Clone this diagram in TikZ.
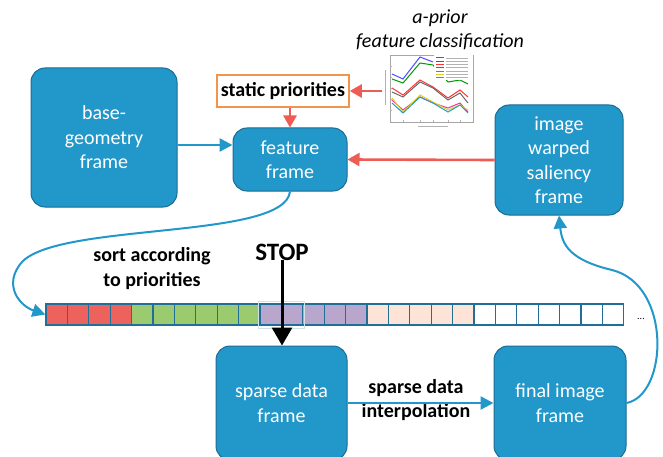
\documentclass[tikz,border=0pt]{standalone}
\usepackage{fontspec}
\setmainfont{Carlito}
\usetikzlibrary{arrows.meta}

\definecolor{framefill}{RGB}{34,151,202}
\definecolor{frameline}{RGB}{27,108,148}
\definecolor{prioline}{RGB}{242,149,74}
\definecolor{redarrow}{RGB}{238,92,84}
\definecolor{cellred}{RGB}{238,98,94}
\definecolor{cellgreen}{RGB}{155,203,110}
\definecolor{cellpurple}{RGB}{184,166,204}
\definecolor{cellpeach}{RGB}{253,228,214}
\definecolor{celledge}{RGB}{31,111,152}

\begin{document}
\begin{tikzpicture}[x=1pt, y=-1pt]
    \tikzstyle{frame} = [draw=frameline, line width=1pt, fill=framefill, rounded corners=14pt, text=white, align=center, inner sep=0pt, font=\fontsize{20}{24.5}\selectfont]
    \tikzstyle{boldtext} = [align=center, inner sep=0pt, font=\fontsize{20}{25}\selectfont\bfseries]
    \tikzstyle{blueflow} = [draw=framefill, line width=2.6pt, -{Triangle[length=13pt,width=13pt]}]
    \tikzstyle{redflow} = [draw=redarrow, line width=2.6pt, -{Triangle[length=12pt,width=13pt]}]
    \tikzstyle{cell} = [draw=celledge, line width=1.2pt, minimum width=21.4pt, minimum height=21pt, inner sep=0pt]
    \tikzstyle{curve} = [line width=2pt]

    \useasboundingbox (0,0) rectangle (663,457);

    % frames
    \node[frame, minimum width=146pt, minimum height=139pt] (base) at (104,137.5) {base-\\geometry\\frame};
    \node[frame, minimum width=114pt, minimum height=63pt] (feature) at (290,159.5) {feature\\frame};
    \node[frame, minimum width=128pt, minimum height=110pt] (saliency) at (559,160) {image\\warped\\saliency\\frame};
    \node[frame, minimum width=131pt, minimum height=114pt] (sparse) at (281.5,403) {sparse data\\frame};
    \node[frame, minimum width=132pt, minimum height=114pt] (final) at (560,403) {final image\\frame};
    \node[boldtext, draw=prioline, line width=1.5pt, fill=white, minimum width=132pt, minimum height=32pt] (static) at (283,91) {static priorities};

    % labels
    \node[align=center, font=\fontsize{20}{24}\selectfont\itshape] (aprior) at (440,30) {a-prior\\feature classification};
    \node[boldtext] (sortlbl) at (152,269) {sort according\\to priorities};
    \node[boldtext] (interp) at (416,400.5) {sparse data\\[-1pt]interpolation};
    \node[boldtext, font=\fontsize{25}{30}\selectfont\bfseries] (stop) at (282,252) {STOP};
    \node[font=\fontsize{10}{12}\selectfont] (dots) at (641,319) {...};

    % classification plot
    \draw[black!35, line width=0.4pt] (390,55) rectangle (473,122);
    \foreach \t in {403,420,433,448,460} \draw[black!30, line width=0.3pt] (\t,122) -- (\t,120);
    \foreach \t in {66,77,88,99,110} \draw[black!30, line width=0.3pt] (390,\t) -- (392,\t);
    \draw[black!30, line width=0.8pt] (385,70) -- (385,105);
    \draw[black!30, line width=0.8pt] (418,126) -- (448,126);
    \draw[blue!70, line width=1pt] plot coordinates {(392,74) (403,79) (420,57) (433,62)};
    \draw[green!60!black, line width=1pt] plot coordinates {(392,79) (403,83) (420,63) (433,65) (448,82) (460,80) (468,84)};
    \draw[red!80, line width=1pt] plot coordinates {(392,88) (403,95) (420,80) (433,87) (448,98) (460,90) (468,97)};
    \draw[black!60, line width=1pt] plot coordinates {(392,92) (403,97) (420,82) (433,88) (448,100) (460,93) (468,103)};
    \draw[magenta!80, line width=1pt] plot coordinates {(392,100) (403,110) (420,97) (433,103) (448,108) (460,103) (468,112)};
    \draw[yellow!85!black, line width=1pt] plot coordinates {(392,98) (403,112) (420,95) (433,102) (448,110) (460,105) (468,110)};
    \draw[cyan!80!black, line width=1pt] plot coordinates {(392,103) (403,113) (420,97) (433,103) (448,112) (460,105) (468,113)};
    \fill[white] (434,55.5) rectangle (472.5,80);
    \foreach \c [count=\i from 0] in {blue!70,green!60!black,red!80,black!60,magenta!80,yellow!85!black,cyan!80!black} {
        \draw[\c, line width=1pt] (436,{58+3.3*\i}) -- (444,{58+3.3*\i});
        \draw[black!30, line width=0.8pt] (446,{58+3.3*\i}) -- (468,{58+3.3*\i});
    }
    \coordinate (chart) at (382,91);

    % priority array
    \foreach \c [count=\i from 0] in {cellred,cellred,cellred,cellred,cellgreen,cellgreen,cellgreen,cellgreen,cellgreen,cellgreen,cellpurple,cellpurple,cellpurple,cellpurple,cellpurple,cellpeach,cellpeach,cellpeach,cellpeach,cellpeach,white,white,white,white,white,white,white}
        \node[cell, fill=\c] (cell\i) at ({56.7+21.4*\i},314.5) {};
    \draw[celledge!20, line width=0.8pt] ([shift={(-1pt,2.5pt)}]cell10.north west) rectangle ([shift={(1pt,-2.5pt)}]cell11.south east);

    % connections
    \coordinate (rowA) at (0,145);
    \draw[blueflow] (base.east |- rowA) -- (feature.west |- rowA);
    \draw[redflow] (saliency.west) -- (feature.east);
    \draw[redflow] (static.south -| feature.north) -- (feature.north);
    \draw[redflow] (chart) -- (static.east);
    \draw[blueflow] (sparse.east) -- (final.west);
    \draw[line width=3pt, -{Triangle[length=18pt,width=20pt]}] (stop.south) -- (stop.south |- sparse.north);
    \draw[blueflow, curve] (feature.south) .. controls (285,240) and (60,222) .. (22,262) .. controls (2,285) and (20,306) .. (cell0.west);
    \draw[blueflow, curve] (final.east) .. controls (668,395) and (672,285) .. (612,270) .. controls (570,260) and (562,245) .. (saliency.south);
\end{tikzpicture}
\end{document}
